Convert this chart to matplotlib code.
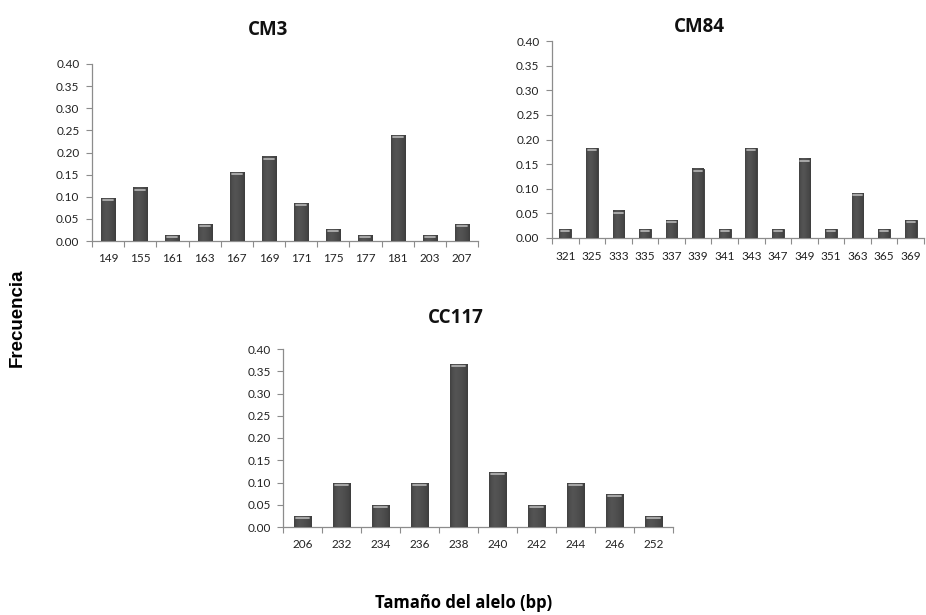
import numpy as np
import matplotlib
matplotlib.use("Agg")
import matplotlib.pyplot as plt

# frecuencias alélicas por locus
cm3_alleles = ["149", "155", "161", "163", "167", "169", "171", "175", "177", "181", "203", "207"]
cm3_freq = [0.096, 0.120, 0.013, 0.037, 0.155, 0.190, 0.085, 0.026, 0.013, 0.238, 0.013, 0.037]

cm84_alleles = ["321", "325", "333", "335", "337", "339", "341", "343", "347", "349", "351", "363", "365", "369"]
cm84_freq = [0.018, 0.182, 0.055, 0.018, 0.036, 0.141, 0.018, 0.182, 0.018, 0.161, 0.018, 0.091, 0.018, 0.036]

cc117_alleles = ["206", "232", "234", "236", "238", "240", "242", "244", "246", "252"]
cc117_freq = [0.024, 0.098, 0.049, 0.098, 0.366, 0.122, 0.049, 0.098, 0.073, 0.024]

W, H = 926, 615
fig = plt.figure(figsize=(W / 100, H / 100), dpi=100)
fig.patch.set_facecolor("white")

TICK_FONT = "Lato"
AX_GRAY = "#8c8c8c"

# sombreado tipo cilindro para las barras
shade = np.array([0.26, 0.31, 0.33, 0.32, 0.30, 0.28, 0.24])
shade = np.interp(np.linspace(0, 6, 64), np.arange(7), shade)
grad = np.tile(shade, (2, 1))


def px_axes(x0, x1, y0, y1):
    # rectángulo en píxeles (y desde arriba) -> coordenadas de figura
    return fig.add_axes([x0 / W, 1 - y1 / H, (x1 - x0) / W, (y1 - y0) / H])


def draw(ax, labels, freq, width=0.44):
    n = len(labels)
    x = np.arange(n)
    bars = ax.bar(x, freq, width=width, color="#4a4a4a", edgecolor="#333333",
                  linewidth=0.6, zorder=2)
    for b in bars:
        bx, bw, bh = b.get_x(), b.get_width(), b.get_height()
        ax.imshow(grad, cmap="gray", vmin=0, vmax=1, aspect="auto",
                  extent=(bx, bx + bw, 0, bh), zorder=3, interpolation="bilinear")
        # brillo en la parte superior
        ax.plot([bx + bw * 0.15, bx + bw * 0.85], [bh - 0.004, bh - 0.004],
                color="#b0b0b0", lw=1.3, solid_capstyle="round", zorder=4)
    ax.set_xlim(-0.5, n - 0.5)
    ax.set_ylim(0, 0.40)
    ax.set_yticks(np.arange(0, 0.401, 0.05))
    ax.set_yticklabels([f"{v:.2f}" for v in np.arange(0, 0.401, 0.05)],
                       fontsize=8.5, family=TICK_FONT, color="#222222")
    ax.set_xticks(x)
    ax.set_xticklabels(labels, fontsize=8.5, family=TICK_FONT, color="#222222")
    ax.set_xticks(np.arange(n + 1) - 0.5, minor=True)
    ax.tick_params(axis="x", which="major", length=0, pad=9)
    ax.tick_params(axis="x", which="minor", length=4, color=AX_GRAY, width=0.8)
    ax.tick_params(axis="y", length=4, color=AX_GRAY, width=0.8, pad=5)
    for s in ("top", "right"):
        ax.spines[s].set_visible(False)
    for s in ("left", "bottom"):
        ax.spines[s].set_color(AX_GRAY)
        ax.spines[s].set_linewidth(0.9)


def title(x, y, text):
    fig.text(x / W, 1 - y / H, text, ha="center", va="center", fontsize=13.5,
             fontweight="bold", family="Open Sans", color="#111111")


ax1 = px_axes(92, 478, 64, 241)
draw(ax1, cm3_alleles, cm3_freq)
title(268, 30, "CM3")

ax2 = px_axes(552, 924, 41, 238)
draw(ax2, cm84_alleles, cm84_freq)
title(699, 27, "CM84")

ax3 = px_axes(283, 673, 349, 527)
draw(ax3, cc117_alleles, cc117_freq)
title(456, 318, "CC117")

fig.text(17 / W, 1 - 318 / H, "Frecuencia", rotation=90, ha="center", va="center",
         fontsize=13.5, fontweight="bold", family="Liberation Sans")
fig.text(464 / W, 1 - 603 / H, "Tamaño del alelo (bp)", ha="center", va="center",
         fontsize=12, fontweight="bold", family="Open Sans")

fig.savefig("out.png", dpi=100, facecolor="white")
